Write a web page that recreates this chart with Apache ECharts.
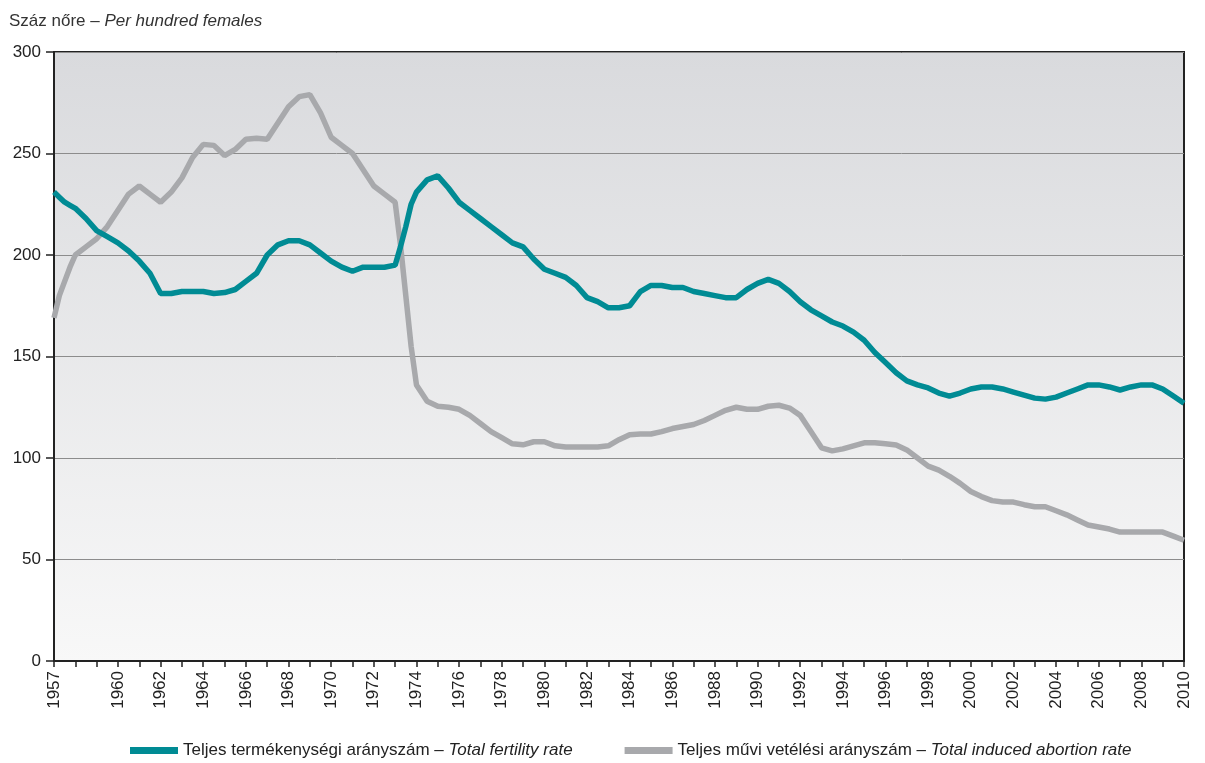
<!DOCTYPE html>
<html>
<head>
<meta charset="utf-8">
<title>Teljes termékenységi és művi vetélési arányszám</title>
<script src="https://cdn.jsdelivr.net/npm/echarts@6/dist/echarts.min.js"></script>
<style>
  html, body { margin: 0; padding: 0; background: #fff; }
  #chart { width: 1205px; height: 763px; }
</style>
</head>
<body>
<div id="chart"></div>
<script>
// év (fél- és negyedéves pontok)
const years = [
  1957, 1957.25, 1957.5, 1957.75,
  1958, 1958.5, 1959, 1959.5, 1960, 1960.5, 1961, 1961.5, 1962, 1962.5, 1963, 1963.5,
  1964, 1964.5, 1965, 1965.5, 1966, 1966.5, 1967, 1967.5, 1968, 1968.5, 1969, 1969.5,
  1970, 1970.5, 1971, 1971.5, 1972, 1972.5, 1973,
  1973.25, 1973.5, 1973.75,
  1974, 1974.5, 1975, 1975.5, 1976, 1976.5, 1977, 1977.5, 1978, 1978.5, 1979, 1979.5,
  1980, 1980.5, 1981, 1981.5, 1982, 1982.5, 1983, 1983.5, 1984, 1984.5, 1985, 1985.5,
  1986, 1986.5, 1987, 1987.5, 1988, 1988.5, 1989, 1989.5, 1990, 1990.5, 1991, 1991.5,
  1992, 1992.5, 1993, 1993.5, 1994, 1994.5, 1995, 1995.5, 1996, 1996.5, 1997, 1997.5,
  1998, 1998.5, 1999, 1999.5, 2000, 2000.5, 2001, 2001.5, 2002, 2002.5, 2003, 2003.5,
  2004, 2004.5, 2005, 2005.5, 2006, 2006.5, 2007, 2007.5, 2008, 2008.5, 2009, 2009.5,
  2010
]

// Teljes termékenységi arányszám
const fertility = [
  231, 228.5, 226, 224.5,
  223, 218, 212, 209, 206, 202, 197, 191, 181, 181, 182, 182,
  182, 181, 181.5, 183, 187, 191, 200, 205, 207, 207, 205, 201,
  197, 194, 192, 194, 194, 194, 195,
  204, 214, 225,
  231, 237, 239, 233, 226, 222, 218, 214, 210, 206, 204, 198,
  193, 191, 189, 185, 179, 177, 174, 174, 175, 182, 185, 185,
  184, 184, 182, 181, 180, 179, 179, 183, 186, 188, 186, 182,
  177, 173, 170, 167, 165, 162, 158, 152, 147, 142, 138, 136,
  134.5, 132, 130.5, 132, 134, 135, 135, 134, 132.5, 131, 129.5, 129,
  130, 132, 134, 136, 136, 135, 133.5, 135, 136, 136, 134, 130.5,
  127
]

// Teljes művi vetélési arányszám
const abortion = [
  169, 180, 187, 194,
  200, 204, 208, 214, 222, 230, 234, 230, 226, 231, 238, 248,
  254.5, 254, 249, 252, 257, 257.5, 257, 265, 273, 278, 279, 270,
  258, 254, 250, 242, 234, 230, 226,
  205, 180, 155,
  136, 128, 125.5, 125, 124, 121, 117, 113, 110, 107, 106.5, 108,
  108, 106, 105.4, 105.4, 105.4, 105.4, 106, 109, 111.5, 111.8, 111.8, 113,
  114.5, 115.5, 116.5, 118.5, 121, 123.5, 125, 124, 124, 125.5, 126, 124.6,
  121, 113, 105, 103.5, 104.5, 106, 107.5, 107.5, 107, 106.4, 104, 100,
  96, 94, 91, 87.5, 83.5, 81, 79, 78.3, 78.3, 77, 76, 76,
  74, 72, 69.5, 67, 66, 65, 63.5, 63.5, 63.5, 63.5, 63.5, 61.5,
  59.5
]

// feliratozott évek az x tengelyen
const yearLabels = [1957, 1960, 1962, 1964, 1966, 1968, 1970, 1972, 1974, 1976, 1978, 1980,
  1982, 1984, 1986, 1988, 1990, 1992, 1994, 1996, 1998, 2000, 2002, 2004, 2006, 2008, 2010]

const seriesNames = [
  "Teljes termékenységi arányszám – Total fertility rate",
  "Teljes művi vetélési arányszám – Total induced abortion rate"
]

const font = '"Liberation Sans Narrow", "Arial Narrow", "Liberation Sans", sans-serif'

const toPairs = (vals) => years.map((y, i) => [y, vals[i]])

const option = {
  animation: false,
  textStyle: { fontFamily: font },
  title: {
    text: "{a|Száz nőre – }{b|Per hundred females}",
    left: 4,
    top: 8,
    textStyle: {
      fontWeight: "normal",
      rich: {
        a: { fontFamily: font, fontSize: 17, color: "#333", fontWeight: "normal" },
        b: { fontFamily: font, fontSize: 17, color: "#333", fontWeight: "normal", fontStyle: "italic" }
      }
    }
  },
  legend: {
    left: 125,
    top: 737,
    itemWidth: 48,
    itemHeight: 7,
    itemGap: 52,
    icon: "rect",
    data: seriesNames,
    formatter: function (name) {
      const parts = name.split(" – ")
      return "{a|" + parts[0] + " – }{b|" + parts[1] + "}"
    },
    textStyle: {
      rich: {
        a: { fontFamily: font, fontSize: 17, color: "#222" },
        b: { fontFamily: font, fontSize: 17, color: "#222", fontStyle: "italic" }
      }
    }
  },
  grid: {
    left: 54,
    right: 21,
    top: 52,
    bottom: 102,
    show: true,
    borderColor: "#222",
    borderWidth: 2,
    backgroundColor: {
      type: "linear",
      x: 0, y: 0, x2: 0, y2: 1,
      colorStops: [
        { offset: 0, color: "#d9dadd" },
        { offset: 1, color: "#f8f8f8" }
      ]
    }
  },
  xAxis: {
    type: "value",
    min: 1957,
    max: 2010,
    interval: 1,
    axisLine: { onZero: false, lineStyle: { color: "#222", width: 2 } },
    axisTick: { show: true, length: 6, lineStyle: { color: "#222", width: 1.5 } },
    splitLine: { show: false },
    axisLabel: {
      rotate: 90,
      margin: 10,
      fontSize: 17,
      color: "#222",
      showMinLabel: true,
      showMaxLabel: true,
      formatter: function (v) {
        return yearLabels.indexOf(v) >= 0 ? String(v) : ""
      }
    }
  },
  yAxis: {
    type: "value",
    min: 0,
    max: 300,
    interval: 50,
    axisLine: { show: true, lineStyle: { color: "#222", width: 2 } },
    axisTick: { show: true, length: 8, lineStyle: { color: "#222", width: 1.5 } },
    splitLine: { show: true, lineStyle: { color: "#8c8c8c", width: 1 } },
    axisLabel: { fontSize: 17, color: "#222", margin: 13 }
  },
  series: [
    {
      name: seriesNames[0],
      type: "line",
      data: toPairs(fertility),
      showSymbol: false,
      color: "#008b94",
      lineStyle: { width: 5.5, color: "#008b94" },
      z: 3
    },
    {
      name: seriesNames[1],
      type: "line",
      data: toPairs(abortion),
      showSymbol: false,
      color: "#a8a9ac",
      lineStyle: { width: 5.5, color: "#a8a9ac" },
      z: 2
    }
  ]
}

const myChart = echarts.init(document.getElementById("chart"))
myChart.setOption(option)
window.addEventListener("resize", function () {
  myChart.resize()
})
</script>
</body>
</html>
